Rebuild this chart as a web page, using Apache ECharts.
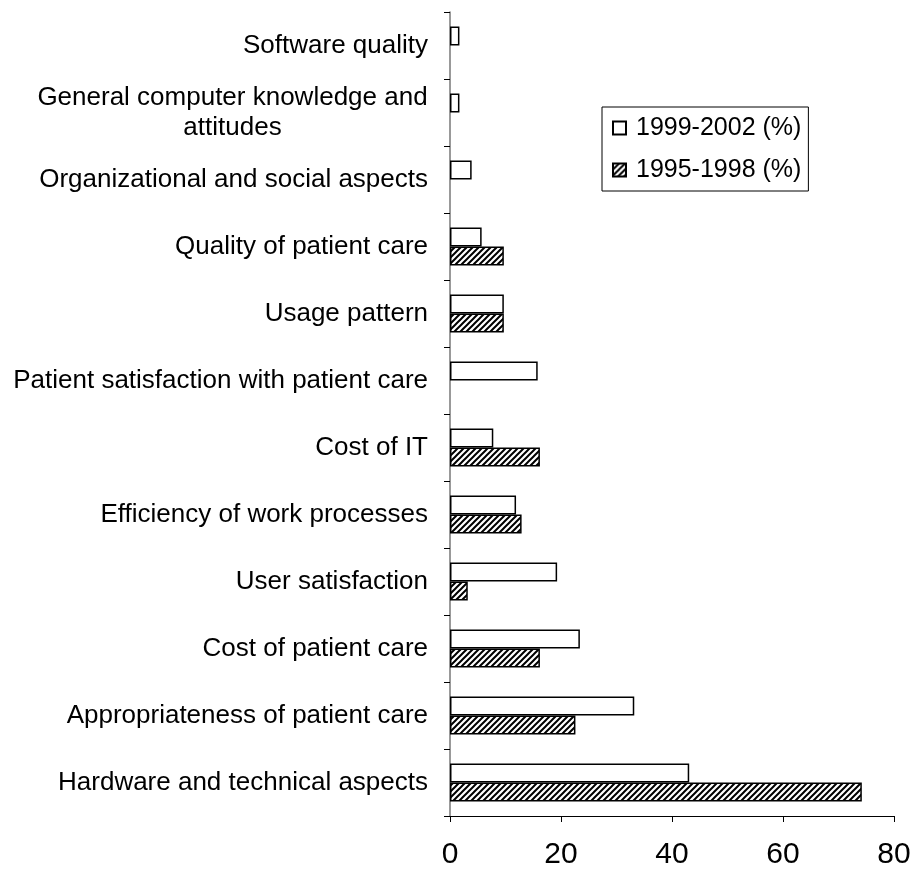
<!DOCTYPE html>
<html lang="en">

<head>
  <meta charset="utf-8">
  <title>Evaluation topics</title>
  <script src="https://cdn.jsdelivr.net/npm/echarts@6/dist/echarts.min.js"></script>
  <style>
    html, body { margin: 0; padding: 0; background: #fff; }
  </style>
</head>

<body>
  <div id="main" style="width: 915px; height: 882px;"></div>

  <script>
    // categories, top to bottom
    var categories = [
      'Software quality',
      'General computer knowledge and\nattitudes',
      'Organizational and social aspects',
      'Quality of patient care',
      'Usage pattern',
      'Patient satisfaction with patient care',
      'Cost of IT',
      'Efficiency of work processes',
      'User satisfaction',
      'Cost of patient care',
      'Appropriateness of patient care',
      'Hardware and technical aspects'
    ];
    var seriesNames = ['1999-2002 (%)', '1995-1998 (%)'];
    var values1999 = [1.7, 1.7, 3.9, 5.7, 9.7, 15.8, 7.8, 11.9, 19.3, 23.4, 33.2, 43.1];
    var values1995 = [0, 0, 0, 9.7, 9.7, 0, 16.2, 12.9, 3.2, 16.2, 22.6, 74.2];
    var xTicks = [0, 20, 40, 60, 80];

    // hatch pattern: black "/" stripes on white
    function makeHatch() {
      var c = document.createElement('canvas');
      c.width = 6; c.height = 6;
      var g = c.getContext('2d');
      g.fillStyle = '#fff';
      g.fillRect(0, 0, 6, 6);
      g.strokeStyle = '#000';
      g.lineWidth = 2;
      g.beginPath();
      g.moveTo(-1, 7); g.lineTo(7, -1);
      g.moveTo(-4, 4); g.lineTo(4, -4);
      g.moveTo(2, 10); g.lineTo(10, 2);
      g.stroke();
      return { image: c, repeat: 'repeat' };
    }
    var hatch = makeHatch();

    var font = 'Liberation Sans, Arial, sans-serif';
    var labelSize = 26;

    // width of the widest line of a wrapped label, so the lines can be centred
    function textWidth(s) {
      var g = document.createElement('canvas').getContext('2d');
      g.font = labelSize + 'px ' + font;
      return Math.ceil(Math.max.apply(null, s.split('\n').map(function (t) { return g.measureText(t).width; })));
    }
    var wrapWidth = textWidth(categories[1]);

    // zero values get no outline, so nothing is drawn for them
    function toData(arr) {
      return arr.map(function (v) {
        return v === 0 ? { value: v, itemStyle: { borderWidth: 0 } } : v;
      });
    }

    var myChart = echarts.init(document.getElementById('main'));

    var option = {
      animation: false,
      backgroundColor: '#fff',
      grid: { left: 450, right: 21, top: 12, bottom: 66, containLabel: false },
      legend: {
        orient: 'vertical',
        left: 602,
        top: 107,
        padding: [7, 7, 7, 10],
        itemGap: 14,
        itemWidth: 13,
        itemHeight: 13,
        icon: 'rect',
        borderColor: '#000',
        borderWidth: 1,
        textStyle: { fontFamily: font, fontSize: 25, color: '#000', lineHeight: 28, padding: [0, 0, 0, 5] },
        data: seriesNames
      },
      xAxis: {
        type: 'value',
        min: xTicks[0],
        max: xTicks[xTicks.length - 1],
        interval: 20,
        splitLine: { show: false },
        axisLine: { show: true, lineStyle: { color: '#000', width: 1 } },
        axisTick: { show: true, length: 6, lineStyle: { color: '#000' } },
        axisLabel: { fontFamily: font, fontSize: 30, color: '#000', margin: 24 }
      },
      yAxis: {
        type: 'category',
        inverse: true,
        data: categories,
        axisLine: { show: true, onZero: false, lineStyle: { color: '#777', width: 1.5 } },
        axisTick: { show: true, length: 6, inside: false, lineStyle: { color: '#000' } },
        axisLabel: {
          fontFamily: font, fontSize: labelSize, color: '#000', margin: 22, align: 'right', lineHeight: 30,
          formatter: function (v) {
            if (v.indexOf('\n') < 0) return v;
            return v.split('\n').map(function (t) { return '{c|' + t + '}'; }).join('\n');
          },
          rich: {
            c: { width: wrapWidth, align: 'center', fontFamily: font, fontSize: labelSize, color: '#000', lineHeight: 30 }
          }
        }
      },
      series: [{
        name: seriesNames[0],
        type: 'bar',
        data: toData(values1999),
        barCategoryGap: '43%',
        barGap: '0%',
        itemStyle: { color: '#fff', borderColor: '#000', borderWidth: 1.5 }
      }, {
        name: seriesNames[1],
        type: 'bar',
        data: toData(values1995),
        barCategoryGap: '43%',
        barGap: '0%',
        itemStyle: { color: hatch, borderColor: '#000', borderWidth: 1.5 }
      }]
    };

    myChart.setOption(option);
  </script>
</body>

</html>
